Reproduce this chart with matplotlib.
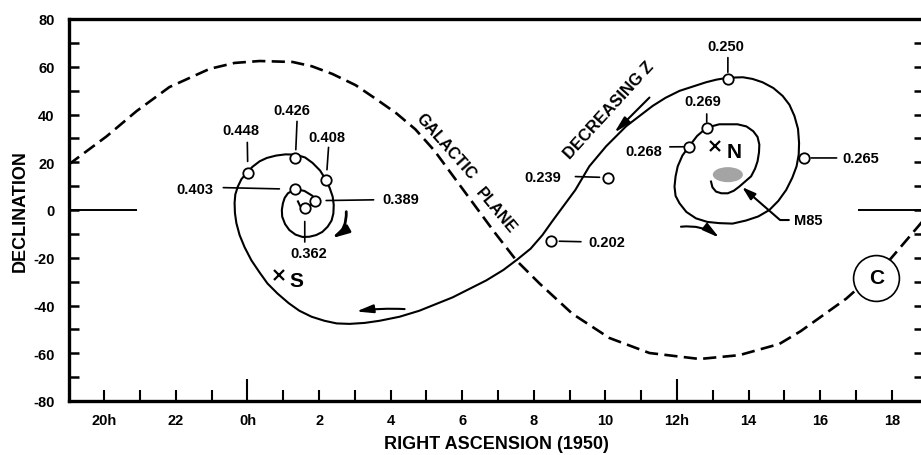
import numpy as np
import matplotlib.pyplot as plt
from matplotlib.patches import Ellipse, FancyArrowPatch

plt.rcParams["font.family"] = ["Liberation Sans", "DejaVu Sans"]
plt.rcParams["font.weight"] = "bold"

# RA in hours on a running scale: -4 = 20h, 0 = 0h, 12 = 12h, 18 = 18h
x_ticks = [-4, -2, 0, 2, 4, 6, 8, 10, 12, 14, 16, 18]
x_tick_labels = ["20h", "22", "0h", "2", "4", "6", "8", "10", "12h", "14", "16", "18"]
x_minor = [-3, -1, 1, 3, 5, 7, 9, 11, 13, 15, 17]
y_ticks = [-80, -60, -40, -20, 0, 20, 40, 60, 80]
y_tick_labels = ["-80", "-60", "-40", "-20", "0", "20", "40", "60", "80"]
y_minor = [-70, -50, -30, -10, 10, 30, 50, 70]

# --- track, from the M85 end round N, across, and into the S spiral ---
track_ra = [12.95, 12.99, 13.09, 13.24, 13.42, 13.59, 13.74, 14.07, 14.18, 14.25,
            14.29, 14.30, 14.25, 14.13, 13.94, 13.69, 13.18, 12.83, 12.56, 12.33,
            12.15, 12.02, 11.96, 11.93, 11.96, 12.07, 12.26, 12.53, 12.85, 13.18,
            13.55, 13.93, 14.27, 14.58, 14.83, 15.05, 15.22, 15.34, 15.40, 15.41,
            15.38, 15.28, 15.14, 14.95, 14.69, 14.39, 14.11, 13.84, 13.42, 13.10,
            12.81, 12.07, 11.68, 11.32, 10.58, 10.02, 9.55, 9.16, 8.83, 8.52,
            8.24, 7.91, 7.54, 7.15, 6.67, 5.73, 4.80, 4.25, 3.69, 3.27,
            2.85, 2.49, 2.15, 1.79, 1.45, 1.15, 0.84, 0.56, 0.34, 0.11,
            -0.08, -0.22, -0.31, -0.35, -0.36, -0.34, -0.27, -0.17, -0.03, 0.14,
            0.34, 0.54, 0.80, 1.06, 1.34, 1.61, 1.82, 2.03, 2.20, 2.30,
            2.38, 2.41, 2.40, 2.35, 2.24, 2.09, 1.92, 1.73, 1.54, 1.34,
            1.17, 1.05, 0.97, 0.96, 0.99, 1.04, 1.13, 1.33, 1.59, 1.82,
            1.87, 1.76, 1.61, 1.47, 1.41]
track_dec = [11.9, 9.5, 7.7, 7.0, 7.0, 8.1, 9.8, 14.1, 17.3, 20.4,
             24.1, 27.4, 30.6, 33.0, 35.0, 35.9, 35.9, 34.5, 31.0, 26.5,
             22.8, 18.3, 14.1, 9.8, 5.9, 2.8, -0.8, -3.5, -5.0, -5.5,
             -5.7, -4.4, -2.7, 0.0, 3.8, 8.4, 13.5, 18.3, 23.2, 28.1,
             34.0, 39.4, 44.1, 47.8, 51.1, 53.5, 54.9, 55.6, 55.4, 54.6,
             53.5, 49.9, 47.0, 43.6, 35.1, 26.7, 18.3, 8.4, 1.7, -4.6,
             -10.5, -16.2, -20.7, -25.1, -29.5, -36.6, -42.2, -44.7, -46.4, -47.3,
             -47.7, -47.5, -46.4, -44.7, -42.2, -39.0, -35.0, -30.8, -26.2, -21.1,
             -15.6, -10.5, -5.5, -1.3, 3.0, 6.5, 9.8, 12.9, 15.4, 18.1,
             20.4, 21.8, 22.8, 23.3, 23.2, 22.0, 19.7, 16.5, 12.4, 9.1,
             5.6, 2.1, -1.4, -4.4, -7.0, -9.2, -10.5, -11.2, -11.3, -10.3,
             -8.4, -5.9, -2.8, 0.0, 2.8, 5.1, 7.0, 8.7, 8.0, 5.9,
             3.9, 1.9, 1.0, 1.7, 3.6]

# --- galactic plane ---
plane_ra = [-5.0, -3.94, -3.10, -2.18, -1.06, -0.36, 0.34, 1.26, 1.80, 2.37,
            3.02, 3.60, 4.16, 4.69, 5.22, 5.78, 6.34, 6.90, 7.51, 8.16,
            9.08, 10.11, 11.23, 12.63, 13.74, 14.86, 15.45, 16.06, 16.73, 17.93,
            18.77, 18.9]
plane_dec = [19.0, 30.8, 41.4, 51.5, 59.1, 61.6, 62.4, 62.0, 60.2, 57.0,
             52.3, 46.4, 40.5, 33.8, 24.9, 13.5, 2.1, -9.3, -21.1, -30.8,
             -43.5, -53.6, -59.9, -62.4, -60.8, -56.1, -50.8, -44.3, -37.1, -21.1,
             -6.3, -4.0]

# --- redshift points ---
z_labels = ["0.448", "0.426", "0.408", "0.403", "0.389", "0.362",
            "0.250", "0.269", "0.268", "0.265", "0.239", "0.202"]
z_ra = [0.01, 1.34, 2.20, 1.33, 1.88, 1.60, 13.42, 12.83, 12.33, 15.56, 10.06, 8.48]
z_dec = [15.7, 21.6, 12.4, 8.7, 3.9, 1.0, 54.9, 34.5, 26.5, 21.8, 13.6, -13.0]
# label offsets (points) and leader lines
label_dx = [-4.8, -2.5, 0.6, -71.8, 61.9, 3.2, -1.8, -2.9, -32.5, 40.8, -46.8, 40.2]
label_dy = [30.7, 34.7, 31.3, 0.4, 0.9, -32.8, 23.4, 18.9, -3.2, 0.0, 0.4, -0.9]
lead_gap_text = [2, 1, 0.5, 4.8, 4.3, 1, 1, 2, 3.6, 2.4, 8.4, 3.4]
lead_gap_marker = [8, 6.3, 7.7, 11.3, 8.2, 10, 4.8, 4, 4, 4.8, 5.8, 6]
lead_rx = [0.66, 0.65, 0.56, 0.5, 0.5, 0.38, 0.57, 0.61, 0.5, 0.5, 0.5, 0.5]
lead_ry = [0.5, 0.5, 0.5, 0.62, 0.5, 0.5, 0.5, 0.5, 0.8, 0.5, 0.6, 0.5]

# --- named positions ---
s_ra, s_dec = 0.89, -27.4
n_ra, n_dec = 13.07, 26.6
c_ra, c_dec = 17.57, -28.3
m85_ra, m85_dec = 13.42, 14.8
m85_tip_ra, m85_tip_dec = 13.82, 9.6
m85_text_ra, m85_text_dec = 15.28, -4.2
equator_start = [-5.0, 17.05]
equator_end = [-3.1, 18.9]

# direction arrows
arrow_ra0 = [2.76, 4.39, 11.23, 12.11]
arrow_dec0 = [-0.7, -41.5, 47.1, -7.0]
arrow_ra1 = [2.34, 3.04, 10.25, 13.18]
arrow_dec1 = [-11.9, -42.5, 32.4, -11.6]
arrow_rad = [-0.3, 0.05, 0.0, -0.2]
arrow_lw = [2.0, 1.5, 1.5, 1.5]

fig = plt.figure(figsize=(9.21, 4.56), dpi=100)
ax = fig.add_axes([68.5 / 921, 54 / 456, 855.5 / 921, 382 / 456])

ax.plot(plane_ra, plane_dec, color="black", lw=1.9, dashes=(5, 2.4), zorder=2)
ax.plot(track_ra, track_dec, color="black", lw=1.5, solid_joinstyle="round", zorder=2)
ax.hlines([0, 0], equator_start, equator_end, color="black", lw=1.4)

ax.add_patch(Ellipse((m85_ra, m85_dec), 0.84, 6.3, facecolor="#a4a4a4",
                     edgecolor="none", zorder=3))

ax.plot(z_ra, z_dec, "o", ms=7.5, mfc="white", mec="black", mew=1.3, zorder=5)
for i, lab in enumerate(z_labels):
    ax.annotate(lab, xy=(z_ra[i], z_dec[i]), xytext=(label_dx[i], label_dy[i]),
                textcoords="offset points", ha="center", va="center",
                fontsize=10.5, fontweight="bold",
                arrowprops=dict(arrowstyle="-", lw=1.2, color="black",
                                shrinkA=lead_gap_text[i], shrinkB=lead_gap_marker[i],
                                relpos=(lead_rx[i], lead_ry[i])))

# N, S and C
ax.plot([n_ra, s_ra], [n_dec, s_dec], "x", color="black", ms=7, mew=1.6, zorder=5)
ax.annotate("N", xy=(n_ra, n_dec), xytext=(13.2, -3.6), textcoords="offset points",
            ha="center", va="center", fontsize=15, fontweight="bold")
ax.annotate("S", xy=(s_ra, s_dec), xytext=(12, -3.6), textcoords="offset points",
            ha="center", va="center", fontsize=15, fontweight="bold")
ax.plot([c_ra], [c_dec], "o", ms=33, mfc="white", mec="black", mew=1.2, zorder=4)
ax.text(c_ra, c_dec, "C", ha="center", va="center", fontsize=15,
        fontweight="bold", zorder=5)

ax.annotate("M85", xy=(m85_tip_ra, m85_tip_dec), xytext=(m85_text_ra, m85_text_dec),
            ha="left", va="center", fontsize=10.5, fontweight="bold",
            arrowprops=dict(arrowstyle="-|>,head_length=0.8,head_width=0.25",
                            connectionstyle="angle,angleA=180,angleB=-41,rad=0",
                            lw=1.5, color="black", shrinkA=2, shrinkB=0,
                            mutation_scale=10))

for i in range(len(arrow_ra0)):
    ax.add_patch(FancyArrowPatch((arrow_ra0[i], arrow_dec0[i]),
                                 (arrow_ra1[i], arrow_dec1[i]),
                                 arrowstyle="-|>,head_length=1.0,head_width=0.25",
                                 connectionstyle=f"arc3,rad={arrow_rad[i]}",
                                 mutation_scale=10, lw=arrow_lw[i], color="black",
                                 shrinkA=0, shrinkB=0, zorder=4))

ax.text(5.55, 26.7, "GALACTIC", rotation=-48.5, rotation_mode="anchor",
        ha="center", va="center", fontsize=11.5, fontweight="bold")
ax.text(6.95, 0.0, "PLANE", rotation=-50, rotation_mode="anchor",
        ha="center", va="center", fontsize=11.5, fontweight="bold")
ax.text(10.11, 42.2, "DECREASING Z", rotation=47.6, rotation_mode="anchor",
        ha="center", va="center", fontsize=12, fontweight="bold")

# axes
ax.set_xlim(-5, 18.9)
ax.set_ylim(-80, 80)
ax.set_xticks(x_ticks)
ax.set_xticklabels(x_tick_labels)
ax.set_xticks(x_minor, minor=True)
ax.set_yticks(y_ticks)
ax.set_yticklabels(y_tick_labels)
ax.set_yticks(y_minor, minor=True)
ax.tick_params(axis="x", which="both", direction="in", length=8, width=1.5,
               top=False, bottom=True, pad=8.5, labelsize=10.5)
ax.tick_params(axis="y", which="both", direction="in", length=7.5, width=1.8,
               left=True, right=True, pad=10, labelsize=10.5)
for t in ax.xaxis.get_major_ticks():
    if t.get_loc() in (0, 12):
        t.tick1line.set_markersize(16)
for s in ax.spines.values():
    s.set_linewidth(2.4)

ax.set_xlabel("RIGHT ASCENSION (1950)", fontsize=13, fontweight="bold", labelpad=6)
ax.set_ylabel("DECLINATION", fontsize=13, fontweight="bold", labelpad=3)

plt.savefig("out.png", dpi=100)
